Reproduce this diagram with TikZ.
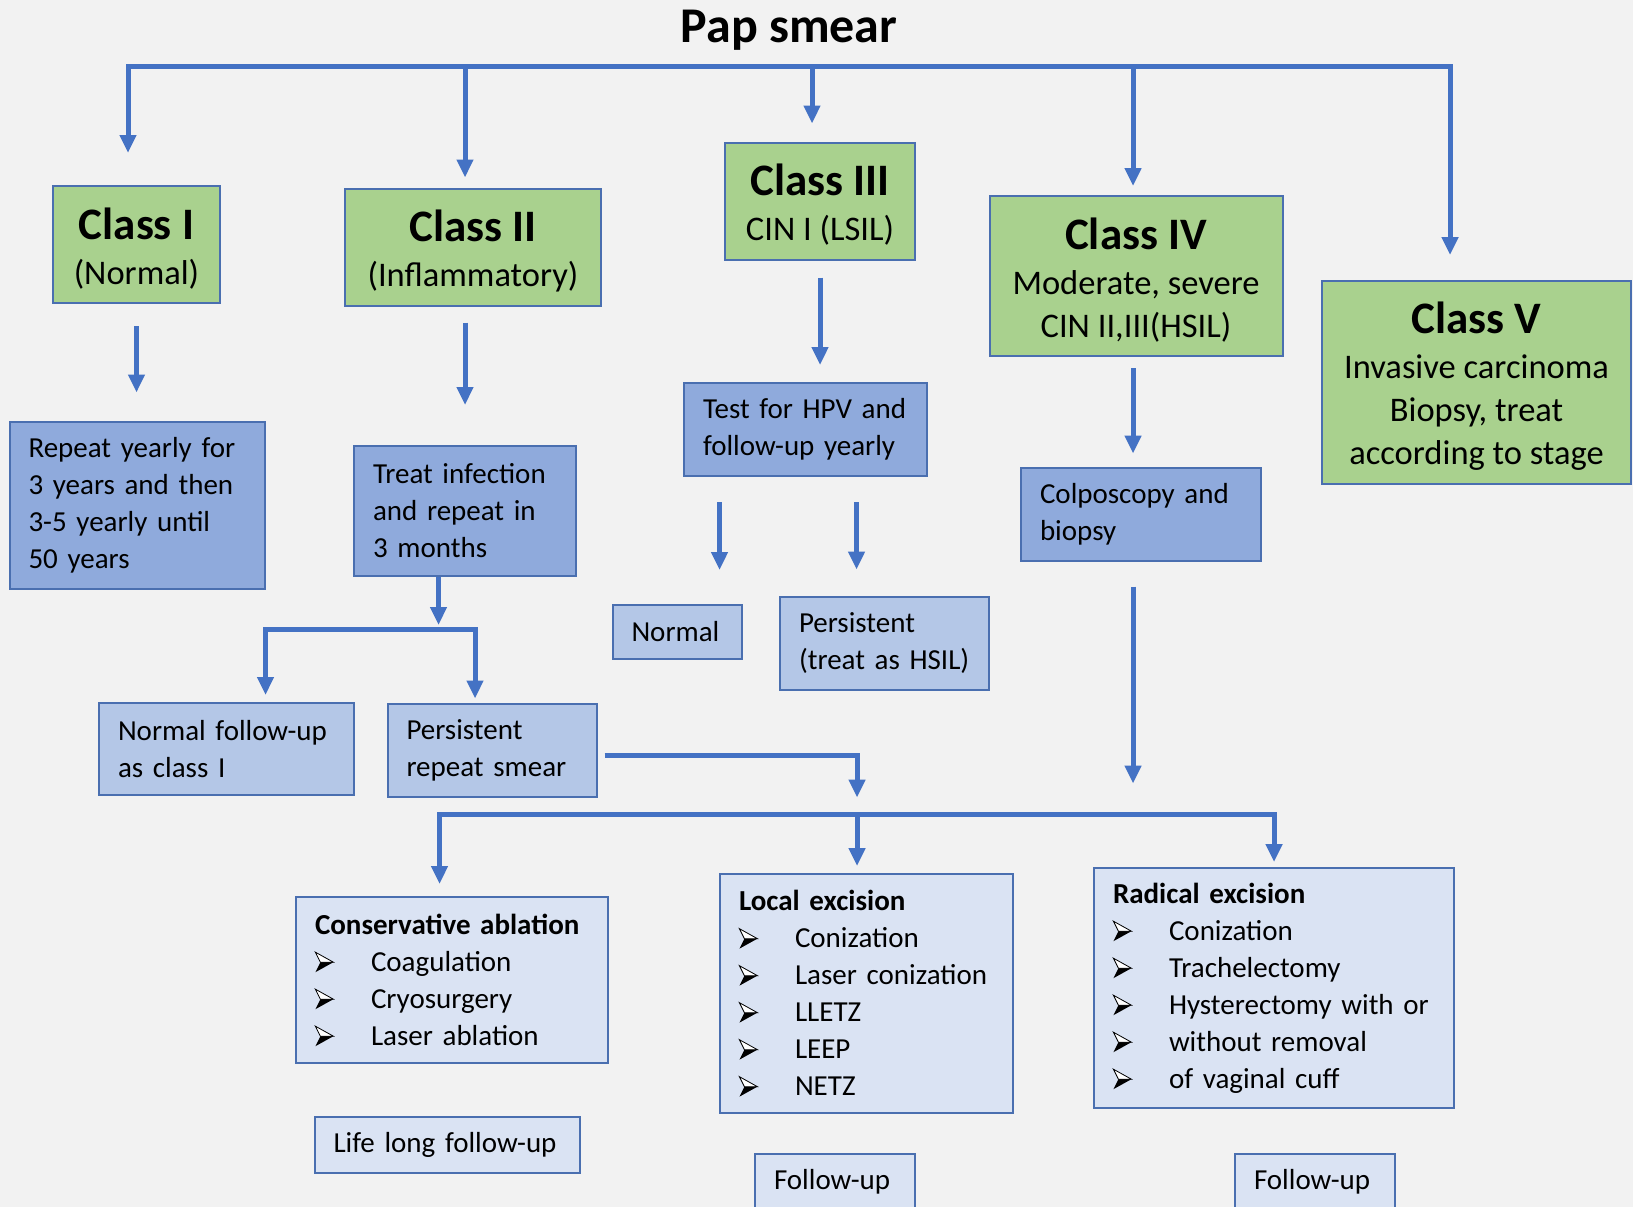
\documentclass[tikz,border=0pt]{standalone}
\usepackage{fontspec}
\setmainfont{Carlito}
\usetikzlibrary{arrows.meta}
\definecolor{bgc}{HTML}{F2F2F2}
\definecolor{grn}{HTML}{A9D18E}
\definecolor{bmid}{HTML}{8FAADC}
\definecolor{blite}{HTML}{B4C7E7}
\definecolor{bpale}{HTML}{DAE3F3}
\definecolor{edge}{HTML}{4A6FB0}
\definecolor{arrc}{HTML}{4472C4}
\newcommand\classtitle[1]{{\bfseries\fontsize{45}{54}\selectfont\rule{0pt}{39pt}#1}}
\newcommand\arrbul{\makebox[56pt][l]{\tikz[x=1pt,y=1pt,baseline=-9pt]{%
  \fill[black] (0,-10) -- (18,0) -- (5,0) -- cycle;
  \draw[line width=0.8pt,fill=white,line join=miter] (0,10) -- (18,0) -- (5,0) -- cycle;}}}
\newcommand\oneline[1]{\mbox{#1}}

\begin{document}
\begin{tikzpicture}[x=1pt,y=-1pt,
  box/.style={draw=edge,line width=2pt,inner sep=0pt},
  classbox/.style={box,fill=grn,align=center,font=\fontsize{34.5}{43}\selectfont},
  stepbox/.style={box,align=left,inner xsep=19pt,font=\fontsize{29}{37}\selectfont},
  arr/.style={draw=arrc,line width=5pt,-{Triangle[width=16pt,length=18pt]}},
  bus/.style={draw=arrc,line width=5pt,line cap=rect}]
  \fill[bgc] (0,0) rectangle (1633,1207);
  \useasboundingbox (0,0) rectangle (1633,1207);
  \clip (0,0) rectangle (1633,1207);

  \node[font=\bfseries\fontsize{50}{60}\selectfont,anchor=base] (title) at (789,43) {Pap smear};

  % classes
  \node[classbox,minimum width=167pt,minimum height=117pt] (cls1) at (136.5,244.5) {\classtitle{Class I}\\[2pt](Normal)};
  \node[classbox,minimum width=256pt,minimum height=117pt] (cls2) at (473,247) {\classtitle{Class II}\\[2pt](Inflammatory)};
  \node[classbox,minimum width=190pt,minimum height=117pt] (cls3) at (820,201) {\classtitle{Class III}\\[2pt]CIN I (LSIL)};
  \node[classbox,minimum width=293pt,minimum height=160pt] (cls4) at (1136,276) {\classtitle{Class IV}\\[2pt]Moderate, severe\\CIN II,III(HSIL)};
  \node[classbox,minimum width=309pt,minimum height=203pt] (cls5) at (1476.5,382.5) {\classtitle{Class V}\\[2pt]Invasive carcinoma\\Biopsy, treat\\according to stage};

  % management steps
  \node[stepbox,fill=bmid,text width=217pt,minimum height=167pt] (rep) at (137,505) {\oneline{Repeat yearly for}\\\oneline{3 years and then}\\\oneline{3-5 yearly until}\\50 years};
  \node[stepbox,fill=bmid,text width=184pt,minimum height=130pt] (treat) at (465,511) {\oneline{Treat infection}\\\oneline{and repeat in}\\3 months};
  \node[stepbox,fill=bmid,text width=205pt,minimum height=93pt] (hpv) at (805.5,429.5) {\oneline{Test for HPV and}\\\oneline{follow-up yearly}};
  \node[stepbox,fill=bmid,text width=202pt,minimum height=93pt] (colpo) at (1141,514) {\oneline{Colposcopy and}\\biopsy};
  \node[stepbox,fill=blite,text width=91pt,minimum height=54pt] (normal) at (677,632) {Normal};
  \node[stepbox,fill=blite,text width=171pt,minimum height=93pt] (pershsil) at (884.5,643) {Persistent\\\oneline{(treat as HSIL)}};
  \node[stepbox,fill=blite,text width=217pt,minimum height=92pt] (normfu) at (226.5,749) {\oneline{Normal follow-up}\\\oneline{as class I}};
  \node[stepbox,fill=blite,text width=171pt,minimum height=93pt] (persrep) at (492,750) {Persistent\\\oneline{repeat smear}};

  % treatments
  \node[stepbox,fill=bpale,text width=274pt,minimum height=166pt] (cons) at (452,980) {\oneline{\textbf{Conservative ablation}}\\\arrbul Coagulation\\\arrbul Cryosurgery\\\arrbul \oneline{Laser ablation}};
  \node[stepbox,fill=bpale,text width=255pt,minimum height=239pt] (local) at (866.5,993.5) {\textbf{Local excision}\\\arrbul Conization\\\arrbul \oneline{Laser conization}\\\arrbul LLETZ\\\arrbul LEEP\\\arrbul NETZ};
  \node[stepbox,fill=bpale,text width=322pt,minimum height=240pt] (radical) at (1274,988) {\textbf{Radical excision}\\\arrbul Conization\\\arrbul Trachelectomy\\\arrbul \oneline{Hysterectomy with or}\\\arrbul \oneline{without removal}\\\arrbul \oneline{of vaginal cuff}};
  \node[stepbox,fill=bpale,text width=227pt,minimum height=56pt] (life) at (447,1145) {\oneline{Life long follow-up}};
  \node[stepbox,fill=bpale,text width=122pt,minimum height=56pt] (fu1) at (835,1182) {\oneline{Follow-up}};
  \node[stepbox,fill=bpale,text width=122pt,minimum height=56pt] (fu2) at (1315,1182) {\oneline{Follow-up}};

  % top bus
  \coordinate (pap1) at (128,67);
  \coordinate (pap2) at (465,67);
  \coordinate (pap3) at (812,67);
  \coordinate (pap4) at (1133,67);
  \coordinate (pap5) at (1450,67);
  \draw[bus] (pap1) -- (pap5);
  \foreach \c/\n/\s in {pap1/cls1/32,pap2/cls2/10,pap3/cls3/18,pap4/cls4/9,pap5/cls5/25}
    \draw[arr,shorten >=\s pt] (\c) -- (\c |- \n.north);

  % class to first step
  \draw[arr,shorten <=22pt,shorten >=28pt] (cls1.south) -- (cls1.south |- rep.north);
  \draw[arr,shorten <=16pt,shorten >=40pt] (treat.north |- cls2.south) -- (treat.north);
  \draw[arr,shorten <=17pt,shorten >=17pt] (cls3.south) -- (cls3.south |- hpv.north);
  \draw[arr,shorten <=11pt,shorten >=13pt] (pap4 |- cls4.south) -- (pap4 |- colpo.north);

  % HPV outcomes
  \coordinate (hpvL) at ([xshift=-86pt]hpv.south);
  \coordinate (hpvR) at ([xshift=51pt]hpv.south);
  \draw[arr,shorten <=25pt,shorten >=34pt] (hpvL) -- (hpvL |- normal.north);
  \draw[arr,shorten <=25pt,shorten >=26pt] (hpvR) -- (hpvR |- pershsil.north);

  % infection branch
  \coordinate (brM) at ([xshift=-26.5pt]treat.south);
  \coordinate (brL) at (265.5,629);
  \coordinate (brR) at (475,629);
  \draw[arr,shorten >=4pt] (brM) -- (brM |- brL);
  \draw[bus] (brL) -- (brR);
  \draw[arr,shorten >=7pt] (brL) -- (brL |- normfu.north);
  \draw[arr,shorten >=4pt] (brR) -- (brR |- persrep.north);

  % bottom bus
  \coordinate (jnL) at (439.5,814.5);
  \coordinate (jnM) at (857,814.5);
  \coordinate (jnR) at (1274,814.5);
  \draw[arr,shorten <=7pt,shorten >=17pt] ([yshift=-5pt]persrep.east) -| (jnM);
  \draw[arr,shorten <=25pt,shorten >=31pt] (pap4 |- colpo.south) -- (pap4 |- jnM);
  \draw[bus] (jnL) -- (jnR);
  \foreach \c/\n/\s in {jnL/cons/12,jnM/local/7,jnR/radical/5}
    \draw[arr,shorten >=\s pt] (\c) -- (\c |- \n.north);
\end{tikzpicture}
\end{document}
